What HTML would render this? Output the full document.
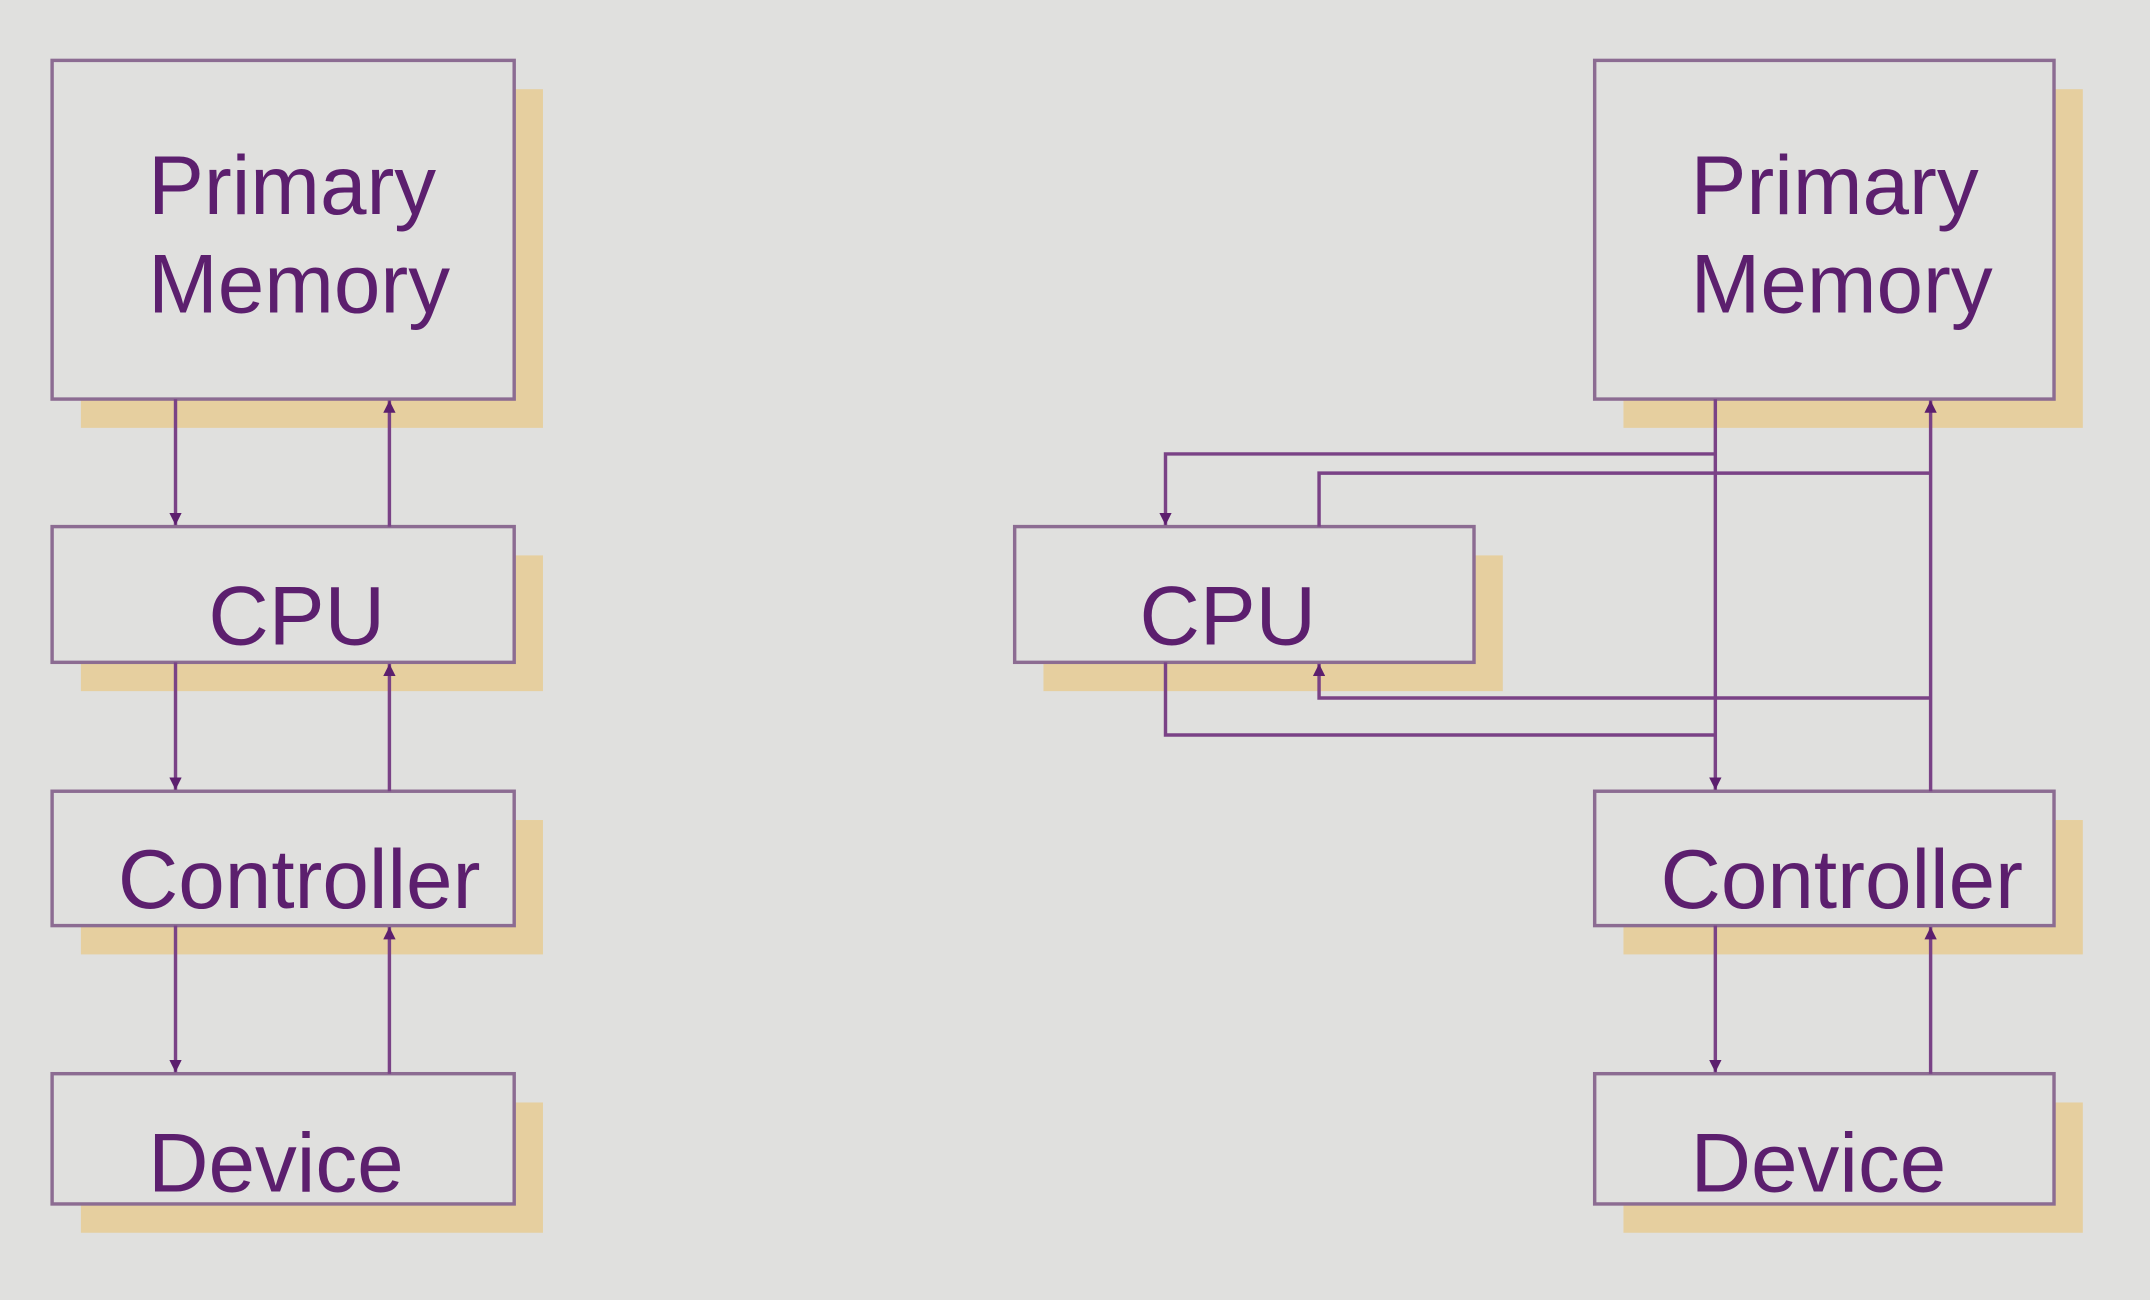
<!DOCTYPE html>
<html><head><meta charset="utf-8"><style>
html,body{margin:0;padding:0;background:#e0e0de;}
svg{display:block}
text{font-family:"Liberation Sans",sans-serif;fill:#5c1f6e;font-size:61px}
</style></head><body>
<svg width="2150" height="1300" viewBox="0 0 1568 948" xmlns="http://www.w3.org/2000/svg">
<defs>
<marker id="a" viewBox="0 0 10 10" refX="10" refY="5" markerWidth="9" markerHeight="9" markerUnits="userSpaceOnUse" orient="auto"><path d="M0,0L10,5L0,10z" fill="#5c1f6e"/></marker>
</defs>
<rect width="1568" height="948" fill="#e0e0de"/>
<g fill="#e6cf9f">
<rect x="59" y="65" width="337" height="247"/>
<rect x="59" y="405" width="337" height="99"/>
<rect x="59" y="598" width="337" height="98"/>
<rect x="59" y="804" width="337" height="95"/>
<rect x="1184" y="65" width="335" height="247"/>
<rect x="761" y="405" width="335" height="99"/>
<rect x="1184" y="598" width="335" height="98"/>
<rect x="1184" y="804" width="335" height="95"/>
</g>
<g fill="#e0e0de" stroke="#8c6c92" stroke-width="2.5">
<rect x="38" y="44" width="337" height="247"/>
<rect x="38" y="384" width="337" height="99"/>
<rect x="38" y="577" width="337" height="98"/>
<rect x="38" y="783" width="337" height="95"/>
<rect x="1163" y="44" width="335" height="247"/>
<rect x="740" y="384" width="335" height="99"/>
<rect x="1163" y="577" width="335" height="98"/>
<rect x="1163" y="783" width="335" height="95"/>
</g>
<g stroke="#7a4286" stroke-width="2.5" fill="none">
<line x1="128" y1="291" x2="128" y2="383" marker-end="url(#a)"/>
<line x1="284" y1="384" x2="284" y2="292" marker-end="url(#a)"/>
<line x1="128" y1="483" x2="128" y2="576" marker-end="url(#a)"/>
<line x1="284" y1="577" x2="284" y2="484" marker-end="url(#a)"/>
<line x1="128" y1="675" x2="128" y2="782" marker-end="url(#a)"/>
<line x1="284" y1="783" x2="284" y2="676" marker-end="url(#a)"/>
<line x1="1251" y1="291" x2="1251" y2="576" marker-end="url(#a)"/>
<polyline points="1251,331 850,331 850,383" marker-end="url(#a)"/>
<line x1="1408" y1="577" x2="1408" y2="292" marker-end="url(#a)"/>
<polyline points="1408,345 962,345 962,384"/>
<polyline points="850,483 850,536 1251,536"/>
<polyline points="1408,509 962,509 962,484" marker-end="url(#a)"/>
<line x1="1251" y1="675" x2="1251" y2="782" marker-end="url(#a)"/>
<line x1="1408" y1="783" x2="1408" y2="676" marker-end="url(#a)"/>
</g>
<text x="108" y="156">Primary</text>
<text x="108" y="228">Memory</text>
<text x="152" y="470">CPU</text>
<text x="86" y="662">Controller</text>
<text x="108" y="869">Device</text>
<text x="1233" y="156">Primary</text>
<text x="1233" y="228">Memory</text>
<text x="831" y="470">CPU</text>
<text x="1211" y="662">Controller</text>
<text x="1233" y="869">Device</text>
</svg>
</body></html>
